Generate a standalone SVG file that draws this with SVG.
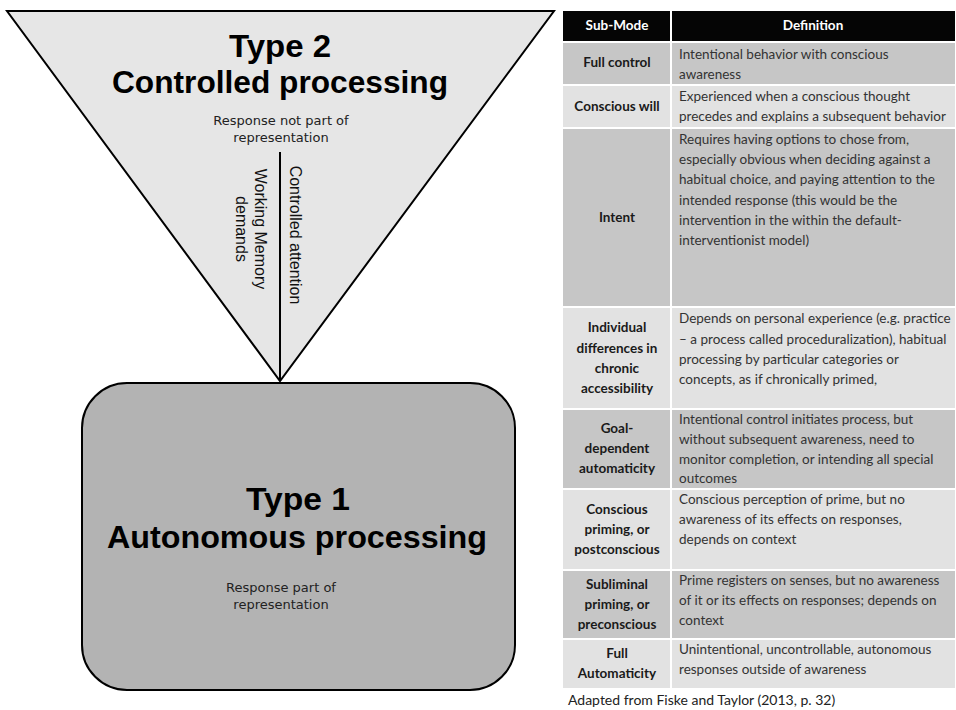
<svg xmlns="http://www.w3.org/2000/svg" width="956" height="710" viewBox="0 0 956 710">
<style>
.title{font-family:"Liberation Sans",Arial,sans-serif;font-weight:bold;font-size:31px;fill:#000;text-anchor:middle}
.small{font-family:"DejaVu Sans",sans-serif;font-size:13px;fill:#222;text-anchor:middle}
.vert{font-family:"Liberation Sans",Arial,sans-serif;font-size:16px;fill:#111;text-anchor:middle}
.hd{font-family:Lato,"Liberation Sans",sans-serif;font-weight:bold;font-size:13.5px;fill:#fff;text-anchor:middle}
.sm{font-family:Lato,"Liberation Sans",sans-serif;font-weight:bold;font-size:13.5px;fill:#1a1a1a;text-anchor:middle}
.df{font-family:Lato,"Liberation Sans",sans-serif;font-size:13.5px;fill:#333}
.dark{fill:#c6c6c6}
.light{fill:#e2e2e2}
.foot{font-family:Lato,"Liberation Sans",sans-serif;font-size:14px;fill:#222}
</style>
<rect width="956" height="710" fill="#fff"/>
<g id="type2">
<polygon points="7,11 554,11 280,381" fill="#e6e6e6" stroke="#000" stroke-width="2" stroke-linejoin="miter"/>
<text class="title" x="280" y="57" textLength="102" lengthAdjust="spacingAndGlyphs">Type 2</text>
<text class="title" x="280" y="93" textLength="336" lengthAdjust="spacingAndGlyphs">Controlled processing</text>
<text class="small" x="281" y="125">Response not part of</text>
<text class="small" x="281" y="142">representation</text>
</g>
<g id="type1">
<rect x="82" y="383" width="433" height="307" rx="45" ry="45" fill="#b3b3b3" stroke="#000" stroke-width="2"/>
<text class="title" x="298" y="510" textLength="104" lengthAdjust="spacingAndGlyphs">Type 1</text>
<text class="title" x="297" y="548" textLength="380" lengthAdjust="spacingAndGlyphs">Autonomous processing</text>
<text class="small" x="281" y="592">Response part of</text>
<text class="small" x="281" y="609">representation</text>
</g>
<g id="connectors">
<line x1="280" y1="152" x2="280" y2="381" stroke="#000" stroke-width="2"/>
<text class="vert" transform="translate(290,235) rotate(90)">Controlled attention</text>
<text class="vert" transform="translate(255,229) rotate(90)">Working Memory</text>
<text class="vert" transform="translate(236,229) rotate(90)">demands</text>
</g>
<g id="table">
<g id="header">
<rect x="563" y="11" width="392" height="30" fill="#050505"/>
<line x1="671" y1="11" x2="671" y2="41" stroke="#fff" stroke-width="2"/>
<text class="hd" x="617" y="30">Sub-Mode</text>
<text class="hd" x="813" y="30">Definition</text>
</g>
<g id="row-full-control">
<rect class="dark" x="563" y="43" width="392" height="41"/>
<text class="sm" x="617" y="67">Full control</text>
<text class="df" x="679" y="59">Intentional behavior with conscious</text>
<text class="df" x="679" y="79">awareness</text>
</g>
<g id="row-conscious-will">
<rect class="light" x="563" y="86" width="392" height="41"/>
<text class="sm" x="617" y="111">Conscious will</text>
<text class="df" x="679" y="101">Experienced when a conscious thought</text>
<text class="df" x="679" y="121">precedes and explains a subsequent behavior</text>
</g>
<g id="row-intent">
<rect class="dark" x="563" y="129" width="392" height="177"/>
<text class="sm" x="617" y="222">Intent</text>
<text class="df" x="679" y="144">Requires having options to chose from,</text>
<text class="df" x="679" y="164">especially obvious when deciding against a</text>
<text class="df" x="679" y="184">habitual choice, and paying attention to the</text>
<text class="df" x="679" y="205">intended response (this would be the</text>
<text class="df" x="679" y="225">intervention in the within the default-</text>
<text class="df" x="679" y="245">interventionist model)</text>
</g>
<g id="row-individual">
<rect class="light" x="563" y="308" width="392" height="100"/>
<text class="sm" x="617" y="332">Individual</text>
<text class="sm" x="617" y="353">differences in</text>
<text class="sm" x="617" y="373">chronic</text>
<text class="sm" x="617" y="393">accessibility</text>
<text class="df" x="679" y="323">Depends on personal experience (e.g. practice</text>
<text class="df" x="679" y="344">– a process called proceduralization), habitual</text>
<text class="df" x="679" y="364">processing by particular categories or</text>
<text class="df" x="679" y="384">concepts, as if chronically primed,</text>
</g>
<g id="row-goal">
<rect class="dark" x="563" y="410" width="392" height="78"/>
<text class="sm" x="617" y="433">Goal-</text>
<text class="sm" x="617" y="453">dependent</text>
<text class="sm" x="617" y="473">automaticity</text>
<text class="df" x="679" y="424">Intentional control initiates process, but</text>
<text class="df" x="679" y="444">without subsequent awareness, need to</text>
<text class="df" x="679" y="464">monitor completion, or intending all special</text>
<text class="df" x="679" y="483">outcomes</text>
</g>
<g id="row-conscious-priming">
<rect class="light" x="563" y="490" width="392" height="79"/>
<text class="sm" x="617" y="514">Conscious</text>
<text class="sm" x="617" y="534">priming, or</text>
<text class="sm" x="617" y="554">postconscious</text>
<text class="df" x="679" y="504">Conscious perception of prime, but no</text>
<text class="df" x="679" y="524">awareness of its effects on responses,</text>
<text class="df" x="679" y="544">depends on context</text>
</g>
<g id="row-subliminal">
<rect class="dark" x="563" y="571" width="392" height="67"/>
<text class="sm" x="617" y="589">Subliminal</text>
<text class="sm" x="617" y="609">priming, or</text>
<text class="sm" x="617" y="629">preconscious</text>
<text class="df" x="679" y="585">Prime registers on senses, but no awareness</text>
<text class="df" x="679" y="605">of it or its effects on responses; depends on</text>
<text class="df" x="679" y="625">context</text>
</g>
<g id="row-full-automaticity">
<rect class="light" x="563" y="640" width="392" height="48"/>
<text class="sm" x="617" y="658">Full</text>
<text class="sm" x="617" y="678">Automaticity</text>
<text class="df" x="679" y="654">Unintentional, uncontrollable, autonomous</text>
<text class="df" x="679" y="674">responses outside of awareness</text>
</g>
<line x1="671" y1="43" x2="671" y2="688" stroke="#fff" stroke-width="2"/>
<text class="foot" x="568" y="705">Adapted from Fiske and Taylor (2013, p. 32)</text>
</g>
</svg>
